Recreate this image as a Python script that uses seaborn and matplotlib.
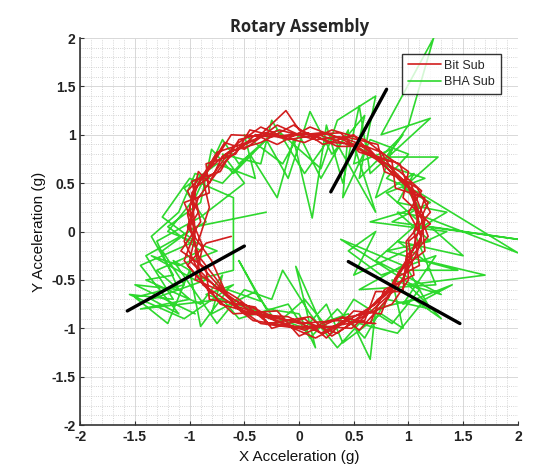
import numpy as np
import pandas as pd
import matplotlib
matplotlib.use('Agg')
import matplotlib.pyplot as plt
import seaborn as sns
from matplotlib.ticker import MultipleLocator

# Bit Sub 軌跡 (紅)
bit_x = [-0.62, -0.85, -1.02, -0.80, -0.72, -0.30, 0.05, 0.28, 0.60, 0.72, 0.95, 1.05, 1.10, 1.05, 0.90, 0.75, 0.45, 0.20, -0.15, -0.35, -0.60, -0.78, -0.95, -0.98,
         -1.05, -0.90, -0.62, -0.45, -0.15, 0.15, 0.40, 0.70, 0.85, 1.00, 1.18, 1.08, 1.00, 0.82, 0.55, 0.30, 0.00, -0.12, -0.40, -0.70, -0.82, -0.92, -1.00,
         -0.95, -1.00, -0.78, -0.55, -0.20, 0.10, 0.35, 0.55, 0.80, 0.92, 1.15, 1.12, 1.18, 0.95, 0.70, 0.50, 0.18, -0.10, -0.45, -0.58, -0.85, -0.82, -1.05,
         -0.88, -0.95, -0.70, -0.50, -0.10, 0.20, 0.45, 0.65, 0.78, 1.05, 1.00, 1.20, 0.95, 1.00, 0.80, 0.60, 0.30, 0.05, -0.30, -0.55, -0.72, -0.98, -0.90,
         -1.08, -0.85, -0.82, -0.40, -0.25, 0.05, 0.25, 0.50, 0.75, 0.88, 1.10, 1.05, 1.15, 0.88, 0.85, 0.55, 0.38, 0.00, -0.20, -0.50, -0.68, -0.88, -0.82,
         -0.95, -0.88, -0.65, -0.42, -0.05, 0.22, 0.48, 0.68, 0.90, 1.08, 1.15, 1.02, 0.78, 0.72, 0.42, 0.15, -0.18, -0.48, -0.75, -0.92, -1.02,
         -0.90, -0.72, -0.55, -0.28, 0.10, 0.30, 0.62, 0.85, 1.00, 0.98, 1.20, 1.08, 0.85, 0.62, 0.35, 0.08, -0.25, -0.62, -0.80, -0.98, -0.95,
         -1.05, -0.82, -0.60, -0.20, 0.00, 0.40, 0.55, 0.82, 0.95, 1.12, 1.00, 1.12, 0.92, 0.68, 0.50, 0.22, -0.05, -0.35, -0.65, -0.85, -1.02, -0.92,
         -1.00, -0.92, -0.75, -0.60, -0.35, 0.00, 0.30, 0.60, 0.70, 0.95, 0.98, 1.12, 1.05, 0.92, 0.65, 0.40, 0.10, -0.20, -0.40, -0.68, -0.92, -1.02, -0.80,
         -0.65, -0.30, 0.00, 0.35, 0.70]
bit_y = [-0.05, -0.12, -0.35, -0.62, -0.75, -0.88, -1.02, -0.92, -0.85, -0.70, -0.50, -0.15, 0.05, 0.40, 0.55, 0.82, 0.95, 1.02, 0.98, 1.08, 0.88, 0.60, 0.45, 0.15,
         -0.10, -0.45, -0.68, -0.82, -0.95, -1.10, -0.95, -0.75, -0.55, -0.30, -0.05, 0.25, 0.48, 0.68, 0.90, 0.92, 1.05, 1.25, 0.95, 0.78, 0.50, 0.62, 0.25,
         -0.05, -0.30, -0.55, -0.78, -0.90, -0.95, -1.05, -0.88, -0.65, -0.40, -0.20, 0.15, 0.30, 0.52, 0.75, 0.88, 1.00, 0.95, 1.05, 0.80, 0.70, 0.40, 0.30,
         -0.15, -0.50, -0.62, -0.85, -0.88, -1.05, -0.90, -0.95, -0.60, -0.45, -0.10, 0.08, 0.35, 0.62, 0.78, 0.95, 1.05, 0.92, 1.02, 0.95, 0.62, 0.52, 0.10,
         -0.20, -0.38, -0.70, -0.78, -1.00, -0.90, -1.10, -0.82, -0.85, -0.48, -0.35, 0.00, 0.35, 0.45, 0.72, 0.82, 1.02, 1.00, 1.10, 0.85, 0.92, 0.55, 0.25,
         -0.20, -0.55, -0.72, -0.92, -0.98, -0.98, -1.00, -0.80, -0.58, -0.22, 0.12, 0.50, 0.62, 0.90, 0.98, 0.95, 1.05, 0.92, 0.82, 0.50, 0.18,
         -0.35, -0.58, -0.70, -0.95, -0.88, -1.08, -0.85, -0.75, -0.50, -0.10, 0.20, 0.45, 0.60, 0.88, 0.88, 1.02, 0.98, 1.00, 0.68, 0.40, 0.00,
         -0.30, -0.62, -0.85, -0.82, -1.08, -0.88, -1.02, -0.68, -0.35, -0.05, 0.20, 0.42, 0.62, 0.78, 1.00, 0.90, 1.10, 0.92, 0.82, 0.62, 0.42, 0.20,
         0.05, -0.25, -0.50, -0.75, -0.95, -1.00, -0.98, -0.92, -0.62, -0.62, -0.25, -0.10, 0.30, 0.70, 0.80, 0.95, 1.08, 0.90, 1.00, 0.72, 0.35, 0.05, -0.30,
         -0.68, -0.85, -0.95, -0.92, -0.95]

# BHA Sub 軌跡 (綠)
bha_x = [-0.30, -0.95, -1.25, -1.05, -1.50, -1.20, -1.00, -0.90, -0.65, -0.35, -0.55, -0.30, 0.00, 0.15, -0.03, 0.20, 0.45, 0.65, 0.70, 1.05,
         1.30, 1.00, 1.70, 1.15, 0.90, 1.50, 1.20, 2.00, 0.85, 1.20, 0.95, 1.27, 0.80, 1.00, 1.23, 0.75, 1.20, 0.65, 0.55, 0.40,
         0.25, 0.12, -0.05, -0.20, -0.45, -0.70, -0.95, -1.10, -1.35, -1.15, -1.40, -0.90, -0.70, -0.80, -0.40, -0.20, 0.05, 0.30, 0.50, 0.85,
         1.10, 0.38, 0.95, 0.55, 1.25, 1.05, 1.35, 0.90, 1.05, 0.70, 0.85, 0.50, 0.60, 0.30, 0.10, -0.10, -0.30, -0.60, -0.80, -0.90,
         -1.20, -0.90, -1.30, -1.00, -1.45, -0.70, -0.55, -0.10, 0.10, 0.35, 0.60, 0.80, 1.20, 1.00, 1.45, 0.80, 1.20, 0.90, 1.15, 2.00,
         1.10, 0.80, 1.00, 0.65, 0.40, 0.45, 0.20, 0.00, -0.15, -0.50, -0.40, -0.75, -1.05, -0.85, -1.40, -1.15, -1.55, -1.05, -0.60, -0.85,
         -0.30, 0.05, 0.25, 0.40, 0.75, 0.95, 0.85, 1.30, 0.70, 1.10, 0.80, 1.15, 0.75, 0.95, 0.55, 0.70, 0.35, 0.20, -0.20, -0.55,
         -0.70, -0.95, -1.20, -0.75, -1.10, -1.35, -0.95, -0.60, -0.60, -1.00, -1.25, -0.95, -1.45, -1.10, -1.35, -0.85, -1.15, -0.75,
         -0.50, -0.25, -0.15, 0.10, 0.35, 0.55, 0.90, 1.15, 1.40, 0.95, 1.25, 0.75, 0.45, 0.70, 0.50, 1.35, 0.65, 1.10, 0.85, 0.50,
         0.70, 0.30, 0.05, -0.25, -0.35, -0.70, -0.50, -0.90, -1.30, -1.10, -1.50, -0.95]
bha_y = [0.20, 0.05, -0.20, -0.55, -0.68, -0.95, -0.40, -0.98, -0.60, -0.72, -0.30, -0.80, -0.85, -1.20, -0.36, -0.95, -0.85, -1.32, -0.80, -0.70,
         -0.90, -0.55, -0.45, -0.30, -0.10, -0.25, 0.05, -0.08, 0.10, 0.30, 0.45, 0.77, 0.77, 1.10, 2.00, 1.00, 1.17, 0.60, 1.30, 0.50,
         1.10, 0.14, 0.95, 0.35, 0.80, 0.50, 0.60, 0.20, -0.05, -0.45, -0.50, -0.75, -0.45, -0.85, -0.62, -0.95, -0.70, -1.05, -0.70, -0.95,
         -0.60, -0.08, -0.35, -0.60, -0.55, 0.00, 0.20, 0.30, 0.60, 0.35, 0.85, 0.70, 1.20, 0.80, 1.24, 0.55, 0.95, 0.60, 0.85, 0.30,
         0.05, -0.20, -0.40, -0.70, -0.80, -0.70, -0.90, -0.75, -1.10, -0.80, -1.10, -0.70, -0.80, -0.40, -0.40, -0.20, -0.10, 0.20, 0.15, -0.22,
         0.40, 0.55, 0.80, 0.95, 0.35, 1.05, 0.55, 1.00, 0.70, 1.00, 0.55, 0.70, 0.45, 0.10, -0.25, -0.70, -0.65, -0.90, -0.55, -0.65,
         -0.85, -1.00, -0.75, -1.15, -0.85, -1.00, -0.50, -0.65, -0.30, 0.10, 0.40, 0.55, 0.70, 1.00, 0.55, 1.40, 1.15, 0.65, 1.05, 0.70,
         0.95, 0.35, 0.00, -0.20, -0.35, -0.25, -0.50, -0.40, 0.35, 0.55, 0.15, -0.10, -0.35, -0.85, -0.70, -0.50, -0.30, -0.95,
         -0.60, -0.70, -0.40, -0.85, -1.20, -0.95, -1.05, -0.70, -0.55, -0.75, -0.25, -0.45, -0.20, 0.00, -0.45, 0.00, 0.10, 0.25, 0.65, 0.90,
         0.20, 1.00, 0.60, 1.15, 0.70, 0.80, 0.50, 0.15, -0.10, -0.60, -0.55, -0.85]

# 三條黑色參考線
ref_x = [[0.29, 0.80], [-1.57, -0.50], [0.45, 1.47]]
ref_y = [[0.41, 1.47], [-0.82, -0.15], [-0.31, -0.95]]

sns.set_theme(style='white')
plt.rcParams['font.family'] = ['Liberation Sans', 'DejaVu Sans']

fig = plt.figure(figsize=(5.35, 4.75), dpi=100)
ax = fig.add_axes([0.15, 0.105, 0.818, 0.815])

df_bit = pd.DataFrame({'x': bit_x, 'y': bit_y})
df_bha = pd.DataFrame({'x': bha_x, 'y': bha_y})

sns.lineplot(data=df_bit, x='x', y='y', sort=False, estimator=None, color='#d21e1e',
             linewidth=1.2, label='Bit Sub', ax=ax, zorder=4)
sns.lineplot(data=df_bha, x='x', y='y', sort=False, estimator=None, color='#2ed82e',
             linewidth=1.2, label='BHA Sub', ax=ax, zorder=3)

for xs, ys in zip(ref_x, ref_y):
    sns.lineplot(x=xs, y=ys, sort=False, estimator=None, color='black', linewidth=2.4,
                 ax=ax, zorder=5)

ax.set_xlim(-2, 2)
ax.set_ylim(-2, 2)
ax.xaxis.set_major_locator(MultipleLocator(0.5))
ax.yaxis.set_major_locator(MultipleLocator(0.5))
ax.xaxis.set_minor_locator(MultipleLocator(0.1))
ax.yaxis.set_minor_locator(MultipleLocator(0.1))
ax.xaxis.set_major_formatter(plt.FuncFormatter(lambda v, p: f'{v:g}'))
ax.yaxis.set_major_formatter(plt.FuncFormatter(lambda v, p: f'{v:g}'))

ax.grid(which='major', color='#d8d8d8', linewidth=0.7, linestyle='-')
ax.grid(which='minor', color='#c8c8c8', linewidth=0.6, linestyle=':')
ax.set_axisbelow(True)

for s in ['top', 'right']:
    ax.spines[s].set_visible(False)
for s in ['left', 'bottom']:
    ax.spines[s].set_color('#333333')
    ax.spines[s].set_linewidth(1.2)

ax.tick_params(axis='both', which='major', labelsize=10, direction='in', length=3,
               color='#333333', width=0.8, bottom=True, left=True)
for lbl in ax.get_xticklabels() + ax.get_yticklabels():
    lbl.set_fontweight('bold')
    lbl.set_color('#222222')

ax.set_xlabel('X Acceleration (g)', fontsize=11, color='#111111')
ax.set_ylabel('Y Acceleration (g)', fontsize=11, color='#111111')
ax.set_title('Rotary Assembly', fontsize=12, fontweight='bold', family=['Open Sans', 'DejaVu Sans'], pad=4)

leg = ax.legend(loc='upper right', bbox_to_anchor=(0.975, 0.975), fontsize=9, frameon=True,
                fancybox=False, edgecolor='black', handlelength=2.6, borderpad=0.45,
                labelspacing=0.35, handletextpad=0.3)
leg.get_frame().set_linewidth(1.0)

fig.savefig('out.png', dpi=100)
